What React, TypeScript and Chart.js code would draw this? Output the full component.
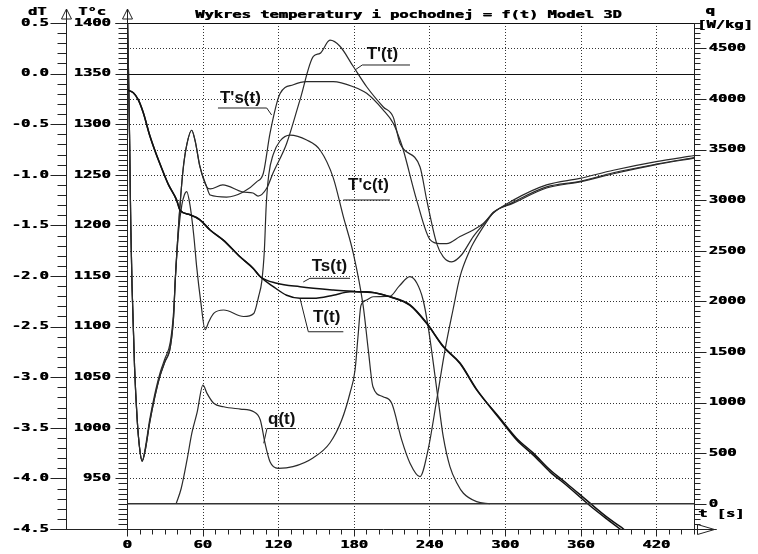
import React, { useEffect, useRef } from "react";
import { Chart, registerables } from "chart.js";

Chart.register(...registerables);

const W = 758;
const H = 554;

const TITLE = "Wykres temperatury i pochodnej = f(t) Model 3D";

// tick labels
const X_LABELS = [0, 60, 120, 180, 240, 300, 360, 420];
const DT_LABELS = [0.5, 0, -0.5, -1, -1.5, -2, -2.5, -3, -3.5, -4, -4.5];
const T_LABELS = [1400, 1350, 1300, 1250, 1200, 1150, 1100, 1050, 1000, 950];
const Q_LABELS = [0, 500, 1000, 1500, 2000, 2500, 3000, 3500, 4000, 4500];

// T(t) [°C]  — pairs [t (s), value]
const T_CURVE: [number, number][] = [
  [0, 1334], [5, 1331], [9, 1324], [13, 1311], [18, 1289], [23, 1271], [28, 1255],
  [33, 1240], [39.4, 1225], [42.1, 1215], [50, 1210.5], [57.9, 1205.5], [65.9, 1195.5],
  [76.4, 1185.5], [89.7, 1169], [100.2, 1157.5], [105.6, 1149.5], [116.1, 1139.5],
  [126.7, 1131], [137.3, 1128], [147.9, 1128], [163.7, 1131], [177, 1134.5],
  [190.2, 1134.5], [208.7, 1129.5], [224.6, 1121.5], [237.9, 1103.5], [251, 1080],
  [264.3, 1063.5], [277.5, 1037.5], [296, 1009.5], [309.3, 989.5], [322.5, 975],
  [335.7, 958.5], [349, 945], [367.5, 925.5], [380.7, 912], [391.3, 902.5], [400, 894],
];

// Ts(t) [°C]
const TS_CURVE: [number, number][] = [
  [0, 1334], [5, 1331], [9, 1324], [13, 1311], [18, 1289], [23, 1271], [28, 1255],
  [33, 1240], [39.4, 1225], [42.1, 1215], [50, 1210.5], [57.9, 1205.5], [65.9, 1195.5],
  [76.4, 1185.5], [89.7, 1169], [100.2, 1157.5], [105.6, 1149.5], [118.8, 1142.8],
  [137.3, 1139.4], [163.7, 1136.2], [182.3, 1134.5], [198.2, 1133], [208.7, 1129.5],
  [224.6, 1121], [237.9, 1103], [251, 1080.5], [264.3, 1064], [277.5, 1038],
  [296, 1008.5], [309.3, 988], [322.5, 973], [335.7, 956.5], [349, 943], [367.5, 923],
  [380.7, 910], [391.3, 900], [400, 892],
];

// T'(t) [dT]
const DT_CURVE: [number, number][] = [
  [0, 0.8], [1, 0.15], [2, -0.6], [3, -1.5], [4, -2.1], [6, -2.9], [8, -3.4], [10, -3.7],
  [12, -3.83], [14.5, -3.72], [18, -3.45], [22, -3.2], [26.4, -2.98], [30, -2.85],
  [34.4, -2.7], [37, -2.4], [38.3, -2.04], [41.5, -1.4], [44.5, -0.95], [47.5, -0.7],
  [51.3, -0.56], [54, -0.66], [57.9, -0.92], [63.3, -1.12], [66, -1.14], [76, -1.1],
  [92, -1.17], [100, -1.18], [104, -1.21], [111, -1.13], [116, -0.98], [126.7, -0.69],
  [137.3, -0.26], [147.9, 0.17], [153.2, 0.2], [161.1, 0.33], [169, 0.27], [179.6, 0.07],
  [190.2, -0.13], [203.4, -0.33], [211.3, -0.43], [216.7, -0.69], [232.5, -0.92],
  [237.9, -1.25], [245.8, -1.68], [251, -1.81], [257.7, -1.86], [265.6, -1.79],
  [274.8, -1.61], [285.5, -1.45], [290.7, -1.37], [306.6, -1.28], [333, -1.13],
  [359.5, -1.07], [386, -0.99], [420, -0.9], [450, -0.835],
];

// T's(t) [dT]
const DTS_CURVE: [number, number][] = [
  [0, 0.8], [1, 0.15], [2, -0.6], [3, -1.5], [4, -2.1], [6, -2.9], [8, -3.4], [10, -3.7],
  [12, -3.83], [14.5, -3.72], [18, -3.45], [22, -3.2], [26.4, -2.98], [30, -2.85],
  [34.4, -2.7], [37, -2.4], [38.3, -2.04], [41.5, -1.4], [44.5, -0.95], [47.5, -0.7],
  [51.3, -0.56], [54, -0.66], [57.9, -0.92], [63.3, -1.12], [66, -1.2], [79, -1.22],
  [92.3, -1.17], [102.9, -1.07], [108.2, -0.985], [113.5, -0.59], [121.4, -0.2],
  [132, -0.11], [142.6, -0.08], [163.7, -0.08], [179.6, -0.13], [190.2, -0.195],
  [203.4, -0.36], [211.3, -0.49], [216.7, -0.656], [219.3, -0.755], [229.9, -1.25],
  [240.5, -1.64], [248.4, -1.68], [253.7, -1.68], [264.3, -1.61], [274.8, -1.545],
  [282.8, -1.48], [290.7, -1.377], [306.6, -1.25], [333, -1.1], [359.5, -1.035],
  [386, -0.955], [420, -0.87], [450, -0.81],
];

// T'c(t) [dT]
const DTC_CURVE: [number, number][] = [
  [0, 0.8], [1, 0.15], [2, -0.6], [3, -1.5], [4, -2.1], [6, -2.9], [8, -3.4], [10, -3.7],
  [12, -3.83], [14.5, -3.7], [18, -3.42], [22, -3.17], [26.4, -2.95], [30, -2.82],
  [34.4, -2.65], [37, -2.35], [38.5, -2.0], [41, -1.55], [43.5, -1.3], [45.5, -1.2],
  [47.4, -1.167], [50, -1.3], [53, -1.6], [55.3, -1.91], [58.5, -2.25], [62, -2.53],
  [65, -2.45], [68.8, -2.37], [76.7, -2.336], [92.6, -2.4], [100.6, -2.37], [104.5, -2.2],
  [107, -2.05], [109, -1.75], [110.5, -1.3], [112.5, -1.0], [116, -0.8], [121.4, -0.666],
  [129.4, -0.607], [142.6, -0.656], [153.2, -0.755], [163.7, -1.03], [171.7, -1.414],
  [179.6, -1.776], [187.5, -2.3], [191.5, -2.73], [195.2, -3.094], [203.2, -3.193],
  [210.1, -3.258], [218, -3.62], [224.6, -3.85], [232.5, -3.983], [238.9, -3.72],
  [245.8, -3.225], [252.4, -2.73], [258.7, -2.336], [264.3, -2.007], [272.2, -1.743],
  [274.8, -1.677], [285.5, -1.463], [290.5, -1.377], [306.6, -1.27], [333, -1.12],
  [359.5, -1.065], [386, -0.98], [420, -0.895], [450, -0.83],
];

// q(t) [W/kg]
const Q_CURVE: [number, number][] = [
  [39, 0], [43, 150], [47.6, 430], [51.5, 700], [55.6, 900], [60.3, 1173], [63.5, 1090],
  [68.8, 992], [76.7, 958], [90, 935], [100.6, 909], [105.8, 827], [109.5, 600],
  [113.5, 415], [120, 350], [131.7, 366], [147.6, 452], [161, 600], [170.4, 827],
  [177, 1094], [181, 1321], [183.3, 1647], [185.7, 1960], [189.7, 2010], [195.3, 2045],
  [208.7, 2050], [216, 2150], [224.6, 2243], [230, 2180], [235, 2013], [239, 1749],
  [247, 1025], [251, 662], [256.3, 366], [262, 200], [267, 103], [277.5, 20], [288, 0],
];

// curve labels: text anchor [t, °C] and leader path in [t, °C]
const ANNOTATIONS: { text: string; at: [number, number]; path: [number, number][] }[] = [
  { text: "T'(t)", at: [190.2, 1364.9], path: [[181, 1353.6], [186.7, 1358.5], [224.6, 1358.5]] },
  { text: "T's(t)", at: [73.8, 1320.5], path: [[72.2, 1316], [110.9, 1316], [114.8, 1309.1]] },
  { text: "T'c(t)", at: [175.4, 1235], path: [[171.7, 1225.1], [208.7, 1225.1]] },
  { text: "Ts(t)", at: [146.6, 1154.5], path: [[139.9, 1144.1], [145.2, 1147.7], [177, 1147.7]] },
  { text: "T(t)", at: [147.6, 1105], path: [[137.3, 1128], [143.9, 1094.9], [171.7, 1094.9]] },
  { text: "q(t)", at: [111.9, 1003.3], path: [[108.5, 984.7], [111.1, 999.3], [134.1, 999.3]] },
];

function monoText(ctx: CanvasRenderingContext2D, text: string, x: number, y: number, align: CanvasTextAlign) {
  ctx.save();
  ctx.font = "bold 11px 'DejaVu Sans Mono'";
  ctx.fillStyle = "#000";
  ctx.textBaseline = "middle";
  ctx.textAlign = align;
  ctx.translate(x, y);
  ctx.scale(1.4, 1);
  ctx.fillText(text, 0, 0);
  ctx.fillText(text, 0.55, 0);
  ctx.restore();
}

const overlayPlugin = {
  id: "overlay",
  beforeDatasetsDraw(chart: any) {
    const { ctx, chartArea: a, scales } = chart;
    const sx = scales.x;
    const sT = scales.yT;
    ctx.save();
    ctx.strokeStyle = "#333";
    ctx.lineWidth = 1;
    ctx.setLineDash([1, 2]);
    ctx.beginPath();
    for (let v = 950; v < 1400; v += 25) {
      if (v === 1350) continue;
      const y = Math.round(sT.getPixelForValue(v)) + 0.5;
      ctx.moveTo(a.left, y);
      ctx.lineTo(a.right, y);
    }
    for (const t of X_LABELS) {
      if (t === 0) continue;
      const x = Math.round(sx.getPixelForValue(t)) + 0.5;
      ctx.moveTo(x, a.top);
      ctx.lineTo(x, a.bottom);
    }
    ctx.stroke();
    ctx.restore();
  },
  afterDatasetsDraw(chart: any) {
    const { ctx, chartArea: a, scales } = chart;
    const sx = scales.x;
    const sT = scales.yT;
    const sD = scales.yD;
    const sQ = scales.yQ;
    const p = (v: number) => Math.round(v) + 0.5;
    ctx.save();
    ctx.setLineDash([]);
    const line = (x1: number, y1: number, x2: number, y2: number) => {
      ctx.beginPath();
      ctx.moveTo(x1, y1);
      ctx.lineTo(x2, y2);
      ctx.stroke();
    };
    const dAxisX = p(a.left - 61);
    const tAxisX = p(a.left);
    const qAxisX = p(a.right);
    const bottomY = p(a.bottom);

    ctx.strokeStyle = "#111";
    ctx.lineWidth = 1;
    // solid horizontals
    line(tAxisX - 12, p(sT.getPixelForValue(1400)), qAxisX, p(sT.getPixelForValue(1400)));
    line(tAxisX, p(sD.getPixelForValue(0)), qAxisX, p(sD.getPixelForValue(0)));
    ctx.strokeStyle = "#333";
    ctx.lineWidth = 1.5;
    line(tAxisX, sQ.getPixelForValue(0), qAxisX, sQ.getPixelForValue(0));
    ctx.lineWidth = 1;
    ctx.strokeStyle = "#222";
    // bottom axis
    line(dAxisX - 16, bottomY, qAxisX + 22, bottomY);
    // vertical axes
    line(dAxisX, 10, dAxisX, bottomY);
    line(tAxisX, 10, tAxisX, bottomY);
    line(qAxisX, a.top, qAxisX, bottomY);

    // arrows
    const triUp = (cx: number, tip: number) => {
      ctx.beginPath();
      ctx.moveTo(cx, tip);
      ctx.lineTo(cx - 5, tip + 10);
      ctx.lineTo(cx + 5, tip + 10);
      ctx.closePath();
      ctx.fillStyle = "#fff";
      ctx.fill();
      ctx.stroke();
      line(cx, tip, cx, tip + 12);
    };
    triUp(dAxisX, 9);
    triUp(tAxisX, 9);
    ctx.beginPath();
    ctx.moveTo(qAxisX + 3, bottomY - 5);
    ctx.lineTo(qAxisX + 20, bottomY);
    ctx.lineTo(qAxisX + 3, bottomY + 5);
    ctx.closePath();
    ctx.fillStyle = "#fff";
    ctx.fill();
    ctx.stroke();
    line(qAxisX + 3, bottomY, qAxisX + 22, bottomY);

    // dT axis ticks
    for (let i = 0; i <= 50; i++) {
      const v = -4.5 + i * 0.1;
      const y = p(sD.getPixelForValue(v));
      line(i % 5 === 0 ? dAxisX - 16 : dAxisX - 9, y, dAxisX, y);
    }
    // T axis ticks
    for (let v = 900; v <= 1400; v += 5) {
      const y = p(sT.getPixelForValue(v));
      line(v % 50 === 0 ? tAxisX - 12 : tAxisX - 9, y, tAxisX, y);
    }
    // q axis ticks
    for (let v = -250; v <= 4750; v += 50) {
      const y = p(sQ.getPixelForValue(v));
      line(qAxisX, y, v % 500 === 0 && v >= 0 ? qAxisX + 12 : qAxisX + 6, y);
    }
    // x axis ticks
    for (let t = 0; t <= 450; t += 10) {
      const x = p(sx.getPixelForValue(t));
      line(x, bottomY, x, bottomY + (t % 60 === 0 ? 7 : 5));
    }

    // labels
    for (const v of DT_LABELS) monoText(ctx, v.toFixed(1), dAxisX - 18, sD.getPixelForValue(v), "right");
    for (const v of T_LABELS) monoText(ctx, String(v), tAxisX - 17, sT.getPixelForValue(v), "right");
    for (const v of Q_LABELS) monoText(ctx, String(v), qAxisX + 14, sQ.getPixelForValue(v), "left");
    for (const t of X_LABELS) monoText(ctx, String(t), sx.getPixelForValue(t), bottomY + 16, "center");

    monoText(ctx, TITLE, 195, 15, "left");
    monoText(ctx, "dT", 37, 12, "center");
    monoText(ctx, "T\u00b0c", 78, 12, "left");
    monoText(ctx, "q", 710, 11, "center");
    monoText(ctx, "[W/kg]", 697, 25, "left");
    monoText(ctx, "t [s]", 698, 514, "left");

    // curve annotations
    ctx.strokeStyle = "#222";
    ctx.lineWidth = 1;
    ctx.fillStyle = "#111";
    ctx.font = "bold 17px 'Liberation Sans'";
    ctx.textAlign = "left";
    ctx.textBaseline = "alphabetic";
    for (const an of ANNOTATIONS) {
      ctx.beginPath();
      an.path.forEach(([t, v], i) => {
        const x = sx.getPixelForValue(t);
        const y = sT.getPixelForValue(v);
        if (i === 0) ctx.moveTo(x, y);
        else ctx.lineTo(x, y);
      });
      ctx.stroke();
      ctx.fillText(an.text, sx.getPixelForValue(an.at[0]), sT.getPixelForValue(an.at[1]));
    }
    ctx.restore();
  },
};

function series(points: [number, number][], axis: string, width: number, color: string) {
  return {
    data: points.map(([x, y]) => ({ x, y })),
    yAxisID: axis,
    borderColor: color,
    borderWidth: width,
    pointRadius: 0,
    fill: false,
    cubicInterpolationMode: "monotone" as const,
  };
}

export default function App() {
  const ref = useRef<HTMLCanvasElement | null>(null);
  useEffect(() => {
    if (!ref.current) return;
    const chart = new Chart(ref.current, {
      type: "line",
      data: {
        datasets: [
          series(T_CURVE, "yT", 1.5, "#111"),
          series(TS_CURVE, "yT", 1.5, "#111"),
          series(DT_CURVE, "yD", 1.2, "#2a2a2a"),
          series(DTS_CURVE, "yD", 1.2, "#2a2a2a"),
          series(DTC_CURVE, "yD", 1.2, "#2a2a2a"),
          series(Q_CURVE, "yQ", 1.2, "#2a2a2a"),
        ] as any,
      },
      options: {
        responsive: false,
        animation: false,
        devicePixelRatio: 1,
        layout: { padding: { left: 127, right: 64, top: 23, bottom: 25 } },
        plugins: { legend: { display: false }, tooltip: { enabled: false }, title: { display: false } },
        scales: {
          x: { type: "linear", min: 0, max: 450, display: false },
          yT: { type: "linear", position: "left", min: 900, max: 1400, display: false },
          yD: { type: "linear", position: "left", min: -4.5, max: 0.5, display: false },
          yQ: { type: "linear", position: "right", min: -250, max: 4750, display: false },
        },
      },
      plugins: [overlayPlugin],
    });
    return () => chart.destroy();
  }, []);
  return (
    <div style={{ position: "absolute", left: 0, top: 0, width: W, height: H, background: "#fff" }}>
      <canvas ref={ref} width={W} height={H} style={{ display: "block", width: W, height: H }} />
    </div>
  );
}
